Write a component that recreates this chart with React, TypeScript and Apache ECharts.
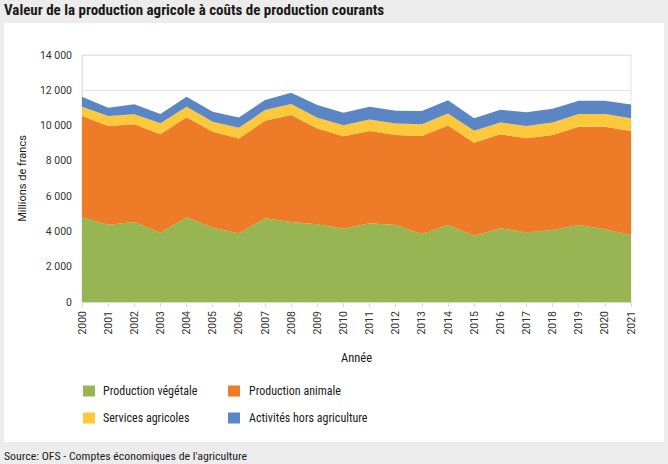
import React, { useEffect, useRef } from "react";
import * as echarts from "echarts";

const years = ["2000","2001","2002","2003","2004","2005","2006","2007","2008","2009","2010","2011","2012","2013","2014","2015","2016","2017","2018","2019","2020","2021"];
const vegetale = [4800, 4380, 4530, 3930, 4800, 4210, 3890, 4740, 4530, 4400, 4150, 4460, 4360, 3850, 4360, 3760, 4180, 3950, 4080, 4360, 4120, 3800];
const animale = [5740, 5590, 5540, 5580, 5670, 5440, 5380, 5530, 6070, 5440, 5250, 5230, 5100, 5560, 5650, 5270, 5330, 5330, 5390, 5570, 5810, 5890];
const services = [530, 570, 570, 620, 600, 570, 600, 610, 620, 600, 620, 660, 660, 660, 680, 680, 660, 700, 700, 720, 720, 720];
const horsAgri = [570, 470, 570, 530, 570, 570, 590, 570, 640, 720, 700, 710, 720, 750, 750, 700, 720, 780, 780, 750, 750, 790];

const seriesNames = ["Production végétale", "Production animale", "Services agricoles", "Activités hors agriculture"];
const seriesColors = ["#97b552", "#ee7b27", "#fdc93a", "#5b86c5"];
const seriesData = [vegetale, animale, services, horsAgri];

// "Inter" is only a marker in the family list: texts carrying it are drawn condensed by the CSS below.
const NORMAL = "Roboto, sans-serif";
const COND = "Roboto, Inter, sans-serif";
const CSS = `.agri-chart text[style*="Inter"] { font-stretch: 75% !important; }`;

export default function App() {
  const ref = useRef<HTMLDivElement>(null);
  useEffect(() => {
    if (!ref.current) return;
    const chart = echarts.init(ref.current, undefined, { renderer: "svg" });
    chart.setOption({
      animation: false,
      backgroundColor: "#ececec",
      textStyle: { fontFamily: NORMAL },
      graphic: [
        { type: "rect", z: -10, shape: { x: 4, y: 23, width: 660, height: 419 }, style: { fill: "#ffffff" } },
        { type: "text", left: 4, top: 2, style: { text: "Valeur de la production agricole à coûts de production courants", font: `bold 15px ${COND}`, fill: "#1a1a1a" } },
        { type: "text", left: 4, top: 450, style: { text: "Source: OFS - Comptes économiques de l'agriculture", font: `11.8px ${COND}`, fill: "#1a1a1a" } },
      ],
      grid: { left: 82, right: 37, top: 55, bottom: 162, show: true, borderColor: "#e3e3e3", borderWidth: 1 },
      legend: [
        {
          orient: "vertical", left: 83, top: 385, padding: 0, itemGap: 15, itemWidth: 12, itemHeight: 11, icon: "rect",
          data: [seriesNames[0], seriesNames[2]],
          textStyle: { fontFamily: COND, fontSize: 12, color: "#1a1a1a", padding: [0, 0, 0, 3] },
        },
        {
          orient: "vertical", left: 228, top: 385, padding: 0, itemGap: 15, itemWidth: 12, itemHeight: 11, icon: "rect",
          data: [seriesNames[1], seriesNames[3]],
          textStyle: { fontFamily: COND, fontSize: 12, color: "#1a1a1a", padding: [0, 0, 0, 4] },
        },
      ],
      xAxis: {
        type: "category",
        data: years,
        boundaryGap: false,
        name: "Année",
        nameLocation: "middle",
        nameGap: 49,
        nameTextStyle: { fontFamily: COND, fontSize: 12.5, color: "#1a1a1a" },
        axisLine: { lineStyle: { color: "#d9d9d9" } },
        axisTick: { show: true, length: 5, lineStyle: { color: "#d9d9d9" } },
        axisLabel: { fontFamily: NORMAL, rotate: 90, fontSize: 10.5, color: "#333", margin: 9, interval: 0 },
      },
      yAxis: {
        type: "value",
        min: 0,
        max: 14000,
        interval: 2000,
        name: "Millions de francs",
        nameLocation: "middle",
        nameGap: 54,
        nameTextStyle: { fontFamily: NORMAL, fontSize: 11, color: "#1a1a1a" },
        axisLine: { show: true, lineStyle: { color: "#e3e3e3" } },
        axisTick: { show: false },
        splitLine: { lineStyle: { color: "#e3e3e3" } },
        axisLabel: {
          fontFamily: NORMAL,
          fontSize: 10.5, color: "#333", margin: 10,
          formatter: (v: number) => String(v).replace(/\B(?=(\d{3})+(?!\d))/g, " "),
        },
      },
      series: seriesNames.map((name, i) => ({
        name,
        type: "line",
        stack: "total",
        data: seriesData[i],
        symbol: "none",
        lineStyle: { width: 0 },
        areaStyle: { color: seriesColors[i], opacity: 1 },
        itemStyle: { color: seriesColors[i] },
      })),
    });
    return () => chart.dispose();
  }, []);
  return (
    <>
      <style>{CSS}</style>
      <div className="agri-chart" ref={ref} style={{ position: "fixed", left: 0, top: 0, width: 668, height: 464 }} />
    </>
  );
}
